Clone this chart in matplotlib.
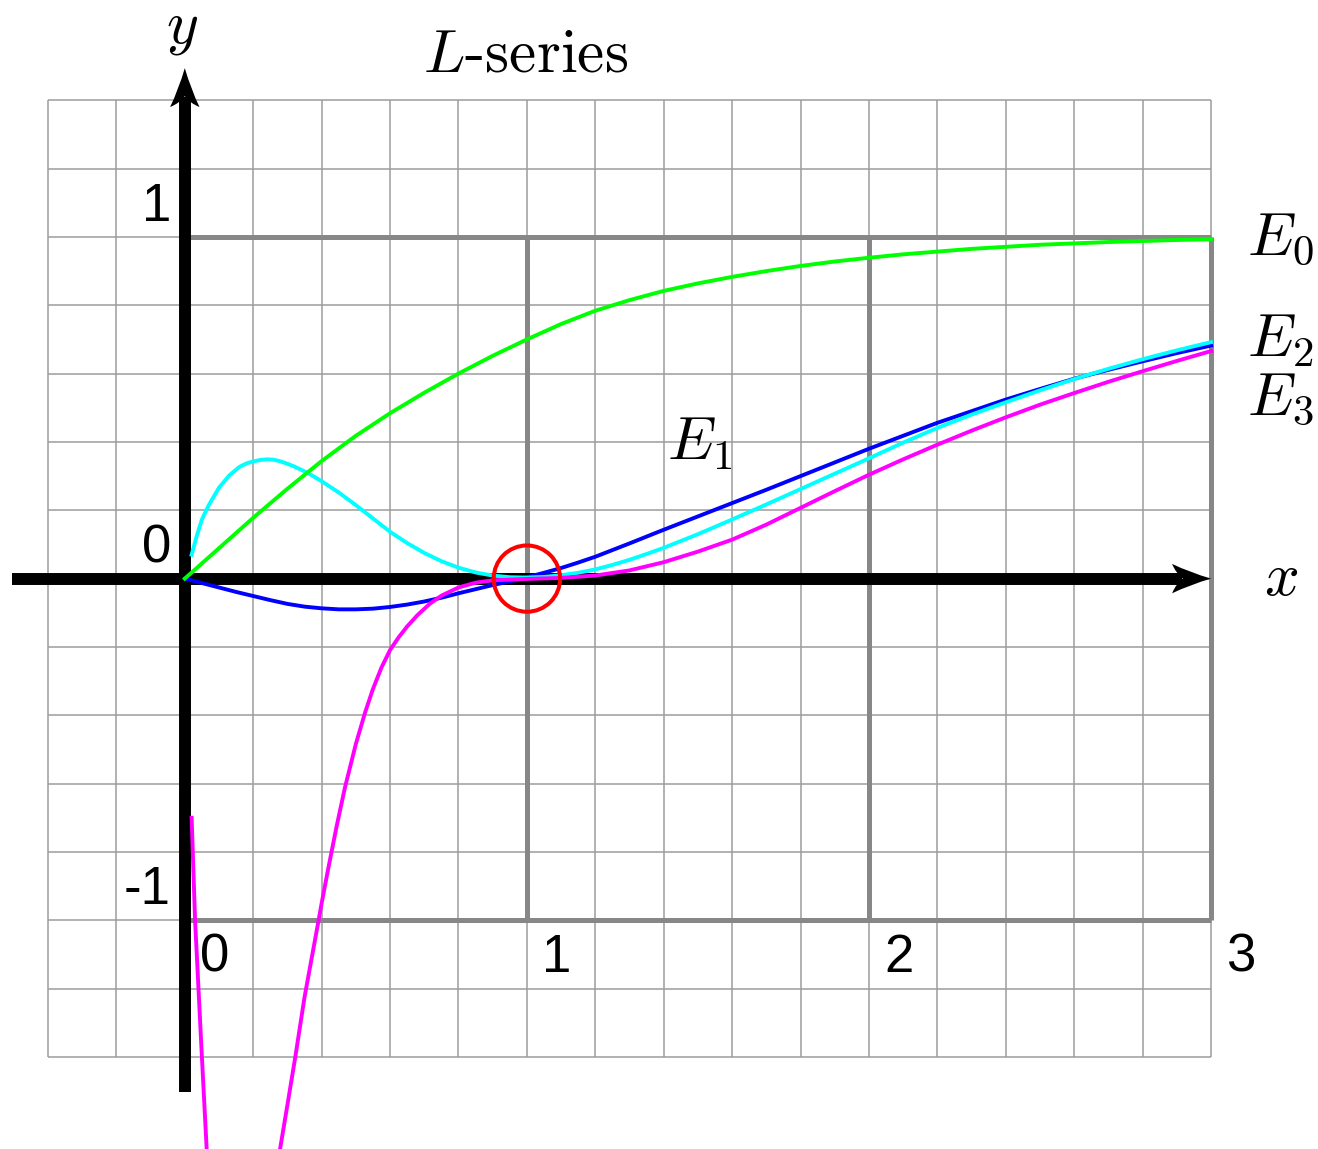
import numpy as np
import matplotlib
matplotlib.use("Agg")
import matplotlib.pyplot as plt
from matplotlib.patches import Circle, PathPatch
from matplotlib.path import Path

plt.rcParams['mathtext.fontset'] = 'cm'

# E0 (green)
e0_x = [0.0, 0.1, 0.2, 0.3, 0.4, 0.5, 0.6, 0.7, 0.8, 0.9, 1.0, 1.1, 1.2, 1.3, 1.4,
        1.5, 1.6, 1.7, 1.8, 1.9, 2.0, 2.1, 2.2, 2.3, 2.4, 2.5, 2.6, 2.7, 2.8, 2.9, 3.0]
e0_y = [0.0, 0.089, 0.178, 0.263, 0.344, 0.418, 0.484, 0.544, 0.600, 0.652, 0.700,
        0.745, 0.784, 0.815, 0.842, 0.864, 0.883, 0.900, 0.915, 0.928, 0.939, 0.949,
        0.957, 0.965, 0.971, 0.977, 0.981, 0.985, 0.988, 0.991, 0.993]

# E1 (blue)
e1_x = [0.0, 0.05, 0.1, 0.15, 0.2, 0.25, 0.3, 0.35, 0.4, 0.45, 0.5, 0.55, 0.6, 0.65,
        0.7, 0.75, 0.8, 0.85, 0.9, 0.95, 1.0, 1.05, 1.1, 1.15, 1.2, 1.3, 1.4, 1.5,
        1.6, 1.7, 1.8, 1.9, 2.0, 2.1, 2.2, 2.3, 2.4, 2.5, 2.6, 2.7, 2.8, 2.9, 3.0]
e1_y = [0.0, -0.013, -0.026, -0.039, -0.051, -0.063, -0.074, -0.082, -0.087, -0.090,
        -0.090, -0.088, -0.083, -0.076, -0.067, -0.056, -0.043, -0.031, -0.019,
        -0.008, 0.004, 0.017, 0.031, 0.047, 0.064, 0.103, 0.143, 0.182, 0.221, 0.260,
        0.300, 0.340, 0.380, 0.418, 0.456, 0.490, 0.524, 0.555, 0.585, 0.611, 0.636,
        0.660, 0.682]

# E2 (cyan)
e2_x = [0.02, 0.035, 0.05, 0.07, 0.1, 0.13, 0.16, 0.18, 0.2, 0.22, 0.24, 0.26, 0.28,
        0.3, 0.32, 0.36, 0.4, 0.45, 0.5, 0.55, 0.6, 0.65, 0.7, 0.75, 0.8, 0.85, 0.9,
        0.95, 1.0, 1.05, 1.1, 1.15, 1.2, 1.25, 1.3, 1.35, 1.4, 1.5, 1.6, 1.7, 1.8,
        1.9, 2.0, 2.1, 2.2, 2.3, 2.4, 2.5, 2.6, 2.7, 2.8, 2.9, 3.0]
e2_y = [0.07, 0.125, 0.173, 0.215, 0.266, 0.302, 0.327, 0.337, 0.343, 0.347, 0.349,
        0.348, 0.343, 0.336, 0.328, 0.309, 0.285, 0.252, 0.215, 0.176, 0.137, 0.104,
        0.075, 0.051, 0.032, 0.018, 0.009, 0.004, 0.003, 0.005, 0.010, 0.017, 0.027,
        0.040, 0.055, 0.072, 0.090, 0.130, 0.173, 0.217, 0.262, 0.307, 0.352, 0.398,
        0.441, 0.480, 0.516, 0.551, 0.584, 0.614, 0.642, 0.668, 0.692]

# E3 (magenta): two branches, the dip between them runs off the bottom
e3_x = [0.02, 0.03, 0.04, 0.05, 0.065, np.nan,
        0.275, 0.3, 0.323, 0.35, 0.386, 0.4, 0.42, 0.444, 0.468, 0.5, 0.527, 0.55,
        0.575, 0.6, 0.625, 0.65, 0.68, 0.717, 0.75, 0.8, 0.85, 0.9, 1.0, 1.1, 1.2,
        1.3, 1.4, 1.5, 1.6, 1.7, 1.8, 1.9, 2.0, 2.1, 2.2, 2.3, 2.4, 2.5, 2.6, 2.7,
        2.8, 2.9, 3.0]
e3_y = [-0.70, -1.00, -1.20, -1.40, -1.69, np.nan,
        -1.69, -1.54, -1.40, -1.225, -1.028, -0.95, -0.845, -0.724, -0.612, -0.484,
        -0.392, -0.323, -0.260, -0.209, -0.172, -0.140, -0.107, -0.073, -0.050,
        -0.026, -0.012, -0.005, -0.001, 0.002, 0.009, 0.024, 0.048, 0.079, 0.114,
        0.158, 0.207, 0.256, 0.304, 0.349, 0.392, 0.433, 0.472, 0.509, 0.543, 0.576,
        0.607, 0.637, 0.666]

x_ticks = [0, 1, 2, 3]
y_ticks = [1, 0, -1]

fig = plt.figure(figsize=(13.18, 11.49), dpi=100)
ax = fig.add_axes([0, 0, 1, 1])
ax.set_xlim(-0.5402, 3.3125)
ax.set_ylim(-1.6693, 1.6933)
ax.axis('off')

# fine grid
gx = np.round(np.arange(-0.4, 3.01, 0.2), 2)
gy = np.round(np.arange(-1.4, 1.41, 0.2), 2)
ax.vlines(gx, -1.4, 1.4, color='#9c9c9c', lw=1.1, zorder=1)
ax.hlines(gy, -0.4, 3.0, color='#9c9c9c', lw=1.1, zorder=1)

# unit lines
ax.hlines([-1, 1], 0, 3, color='#878787', lw=3.6, zorder=2)
ax.vlines([1, 2, 3], -1, 1, color='#878787', lw=3.6, zorder=2)


def arrow_head(tip, d, length=0.114, half=0.043, notch=0.082):
    t = np.array(tip, float)
    d = np.array(d, float)
    n = np.array([-d[1], d[0]])
    b1 = t - length * d + half * n
    b2 = t - length * d - half * n
    c1 = t - 0.55 * length * d + 0.42 * half * n
    c2 = t - 0.55 * length * d - 0.42 * half * n
    k1 = t - 0.9 * length * d + 0.35 * half * n
    k2 = t - 0.9 * length * d - 0.35 * half * n
    nk = t - notch * d
    verts = [t, c1, b1, k1, nk, k2, b2, c2, t]
    codes = [Path.MOVETO, Path.CURVE3, Path.CURVE3, Path.CURVE3, Path.CURVE3,
             Path.CURVE3, Path.CURVE3, Path.CURVE3, Path.CURVE3]
    ax.add_patch(PathPatch(Path(verts, codes), fc='black', ec='none', zorder=3))


# axes with arrows
ax.plot([-0.505, 3.0 - 0.085], [0, 0], color='black', lw=8.6,
        solid_capstyle='butt', zorder=3)
ax.plot([0, 0], [-1.5025, 1.494 - 0.085], color='black', lw=8.6,
        solid_capstyle='butt', zorder=3)
arrow_head((3.0, 0.0), (1, 0))
arrow_head((0.0, 1.494), (0, 1))

# curves
ax.plot(e1_x, e1_y, color='#0000ff', lw=2.8, zorder=4)
ax.plot(e2_x, e2_y, color='#00ffff', lw=2.8, zorder=4)
ax.plot(e3_x, e3_y, color='#ff00ff', lw=2.8, zorder=4)
ax.plot(e0_x, e0_y, color='#00ff00', lw=2.8, zorder=4)

ax.add_patch(Circle((1, 0), 0.097, fill=False, ec='#ff0000', lw=2.9, zorder=5))

# tick numbers
for v in x_ticks:
    ax.text(v + 0.044, -1.151, str(v), fontsize=38, family='Liberation Sans',
            ha='left', va='baseline')
for v in y_ticks:
    ax.text(-0.040, v + 0.047, str(v), fontsize=38, family='Liberation Sans',
            ha='right', va='baseline')

# labels
ax.text(-0.008, 1.570, r'$y$', fontsize=44, ha='center', va='baseline')
ax.text(3.155, -0.048, r'$x$', fontsize=44, ha='left', va='baseline')
ax.text(0.697, 1.4855, r'$L\text{-series}$', fontsize=44, ha='left', va='baseline')
ax.text(3.106, 0.9485, r'$E_0$', fontsize=44, ha='left', va='baseline')
ax.text(3.106, 0.651, r'$E_2$', fontsize=44, ha='left', va='baseline')
ax.text(3.106, 0.479, r'$E_3$', fontsize=44, ha='left', va='baseline')
ax.text(1.409, 0.349, r'$E_1$', fontsize=44, ha='left', va='baseline')

fig.savefig('out.png', dpi=100, facecolor='white')
